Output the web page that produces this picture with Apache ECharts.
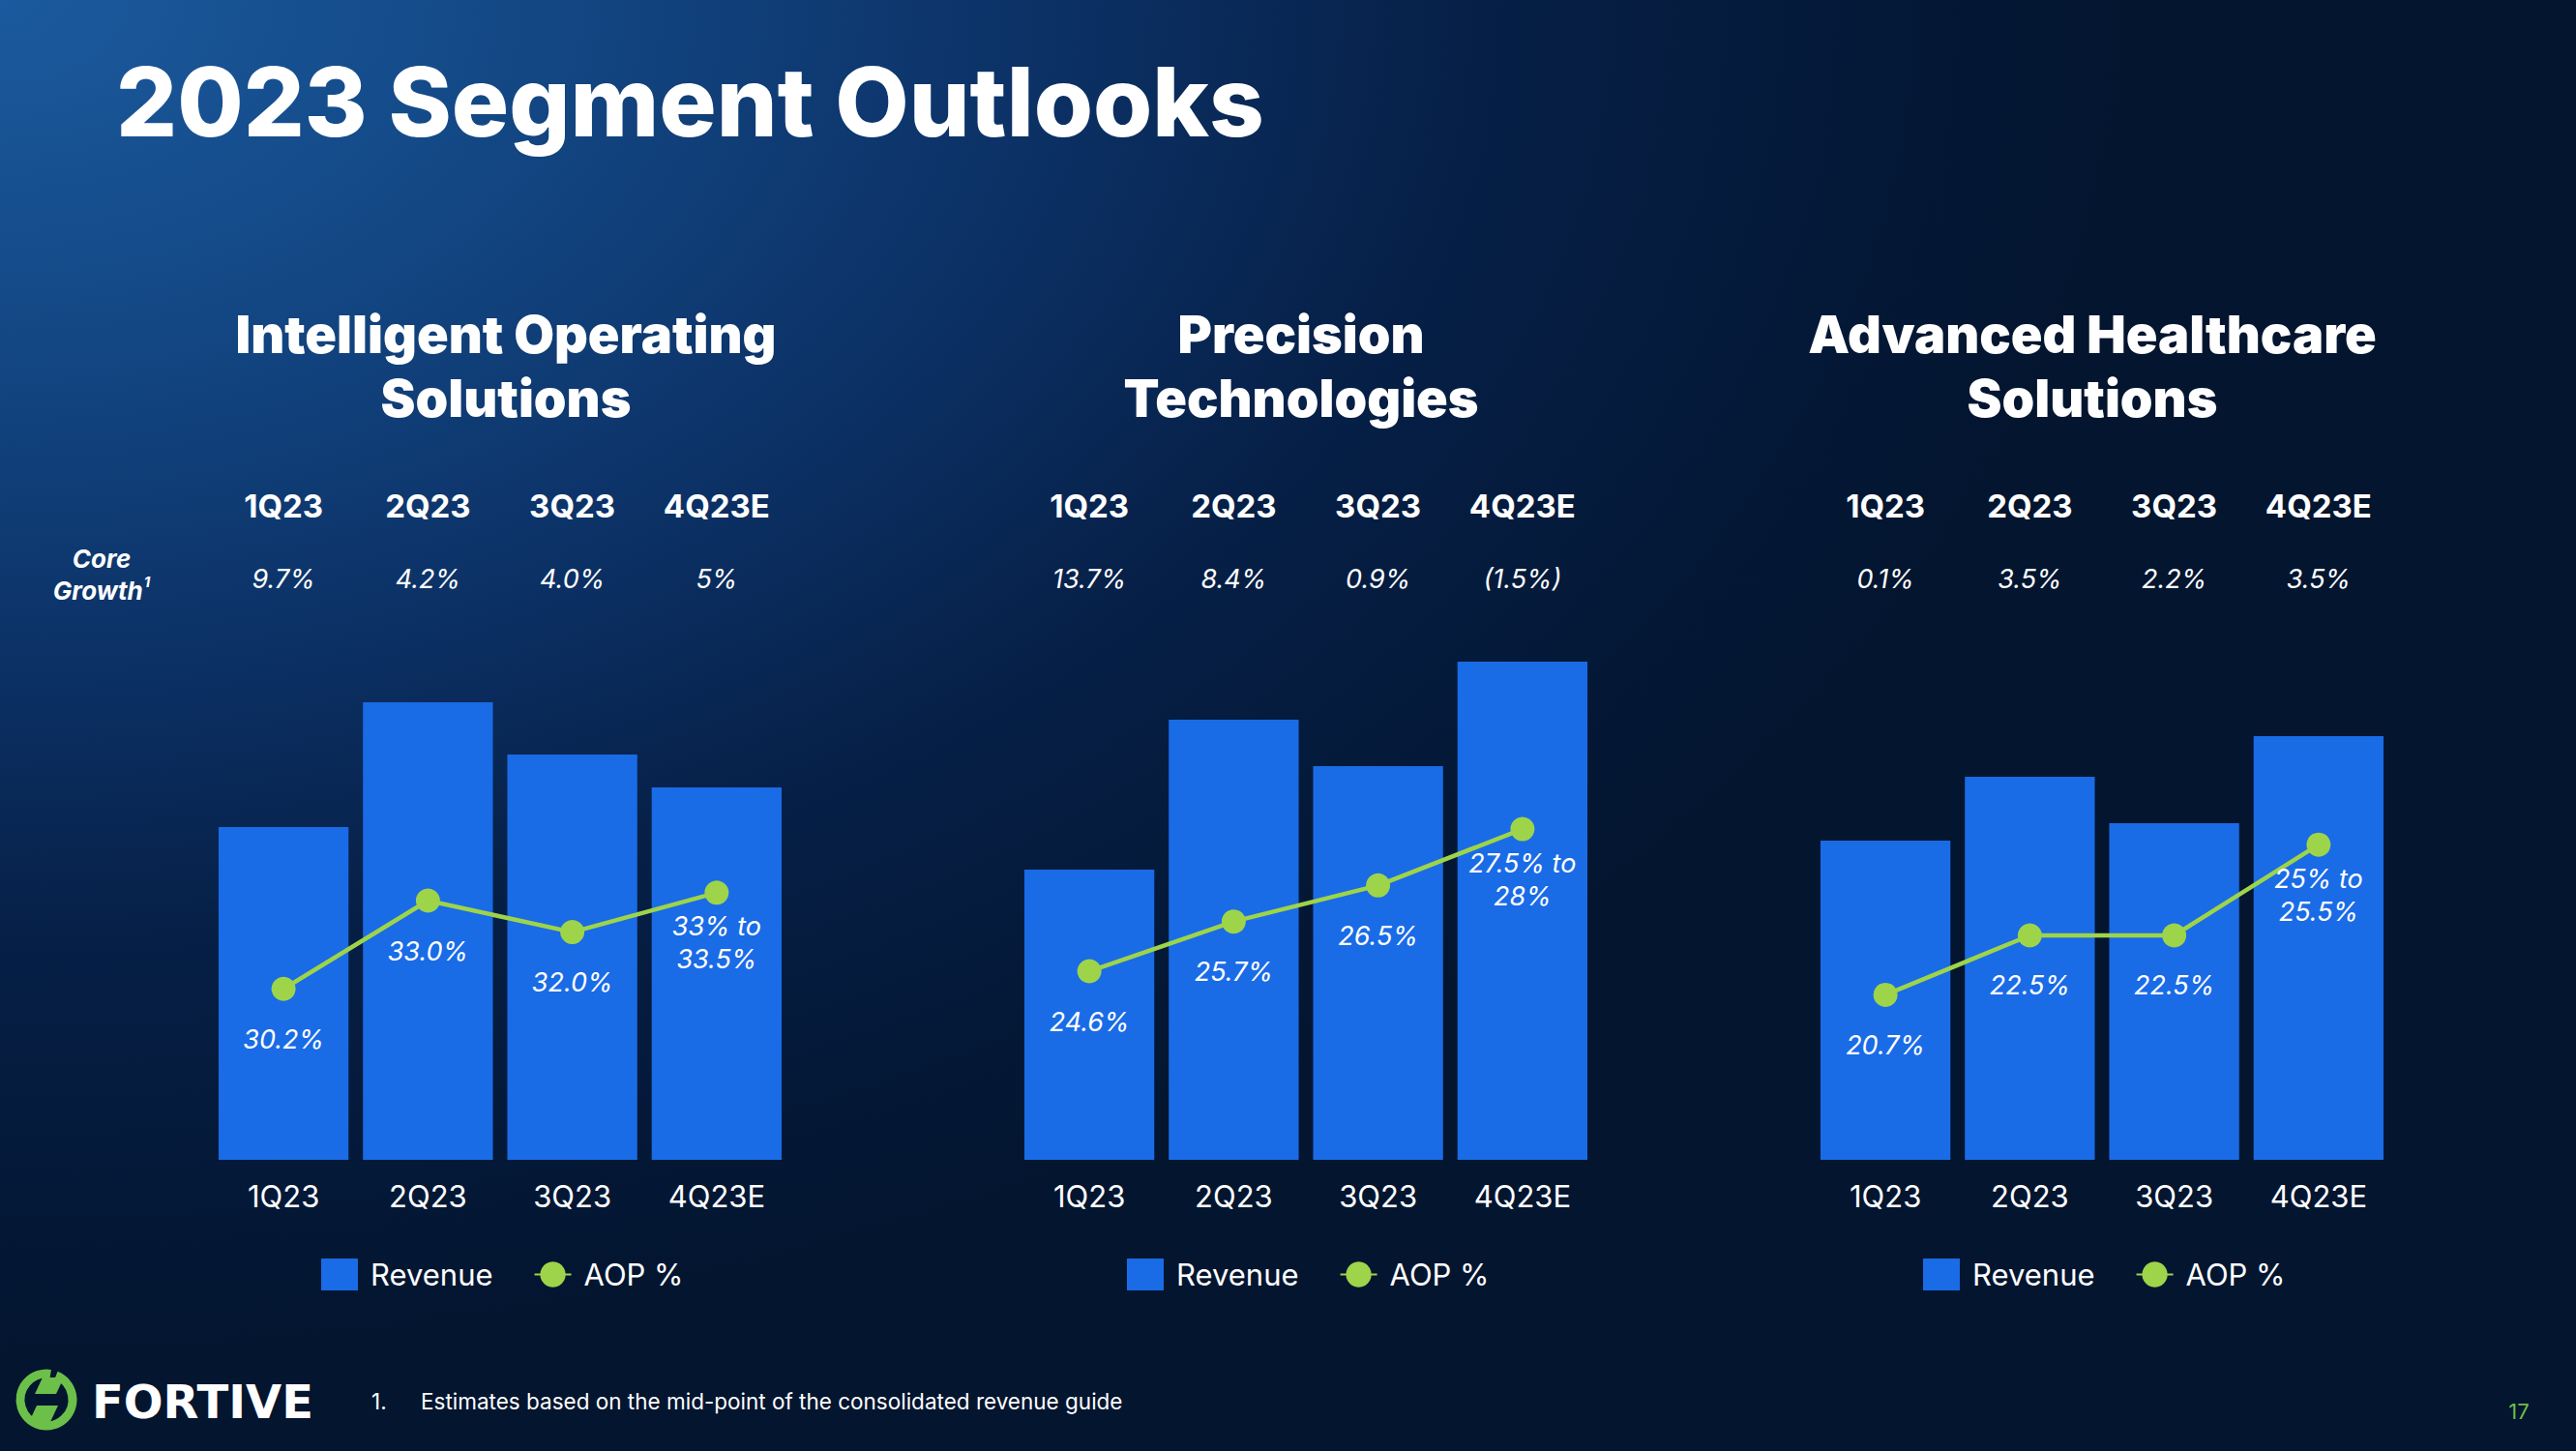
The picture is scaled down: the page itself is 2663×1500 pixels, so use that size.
<!DOCTYPE html>
<html>
<head>
<meta charset="utf-8">
<script src="https://cdn.jsdelivr.net/npm/echarts@6/dist/echarts.min.js"></script>
<style>
html,body{margin:0;padding:0;width:2663px;height:1500px;overflow:hidden;}
body{background:#03152f radial-gradient(ellipse 2200px 1400px at 0px 0px,#1b5a9e 0%,#144a88 22%,#0c3267 48%,#061f46 70%,#03152f 100%);}
#chart{width:2663px;height:1500px;}
</style>
</head>
<body>
<div id="chart"></div>
<script>
// ---------- data ----------
const categories = ['1Q23', '2Q23', '3Q23', '4Q23E'];
const segmentTitles = ['Intelligent Operating\nSolutions', 'Precision\nTechnologies', 'Advanced Healthcare\nSolutions'];

// Revenue bars (no scale shown in the source; relative heights)
const iosRevenue = [68.8, 94.6, 83.8, 77.0];
const ptRevenue  = [60.0, 91.0, 81.4, 103.0];
const ahsRevenue = [66.0, 79.2, 69.6, 87.6];

// AOP % (4Q23E plotted at the mid-point of the guided range)
const iosAop = [30.2, 33.0, 32.0, 33.25];
const ptAop  = [24.6, 25.7, 26.5, 27.75];
const ahsAop = [20.7, 22.5, 22.5, 25.25];

const iosAopLabels = ['30.2%', '33.0%', '32.0%', '33% to\n33.5%'];
const ptAopLabels  = ['24.6%', '25.7%', '26.5%', '27.5% to\n28%'];
const ahsAopLabels = ['20.7%', '22.5%', '22.5%', '25% to\n25.5%'];

// Core growth row
const iosCoreGrowth = ['9.7%', '4.2%', '4.0%', '5%'];
const ptCoreGrowth  = ['13.7%', '8.4%', '0.9%', '(1.5%)'];
const ahsCoreGrowth = ['0.1%', '3.5%', '2.2%', '3.5%'];

const legendNames = ['Revenue', 'AOP %'];

// ---------- layout ----------
const FONT = 'Inter, "Noto Sans", sans-serif';
const BAR_COLOR = '#1a6be6';
const LINE_COLOR = '#9ed44a';
const GRID_TOP = 649, GRID_H = 550, GRID_W = 597;

const panels = [
  { title: segmentTitles[0], revenue: iosRevenue, aop: iosAop, labels: iosAopLabels, growth: iosCoreGrowth,
    left: 218.5, center: 523, legendLeft: 327, aopMin: 24.78, aopMax: 41.65 },
  { title: segmentTitles[1], revenue: ptRevenue, aop: ptAop, labels: ptAopLabels, growth: ptCoreGrowth,
    left: 1051.5, center: 1345, legendLeft: 1160, aopMin: 20.42, aopMax: 32.21 },
  { title: segmentTitles[2], revenue: ahsRevenue, aop: ahsAop, labels: ahsAopLabels, growth: ahsCoreGrowth,
    left: 1874.5, center: 2163, legendLeft: 1983, aopMin: 15.70, aopMax: 31.82 }
];

const grid = [], xAxis = [], yAxis = [], series = [], legend = [];

panels.forEach((p, i) => {
  grid.push({ left: p.left, top: GRID_TOP, width: GRID_W, height: GRID_H, outerBoundsMode: 'none', containLabel: false });
  xAxis.push({
    type: 'category', gridIndex: i, data: categories, position: 'bottom',
    axisLine: { show: false }, axisTick: { show: false }, splitLine: { show: false },
    axisLabel: { color: '#ffffff', fontSize: 31, fontFamily: FONT, margin: 22, interval: 0 }
  });
  yAxis.push({ type: 'value', gridIndex: i, min: 0, max: 110, show: false, splitLine: { show: false } });
  yAxis.push({ type: 'value', gridIndex: i, min: p.aopMin, max: p.aopMax, show: false, splitLine: { show: false } });

  series.push({
    type: 'bar', name: 'Revenue', xAxisIndex: i, yAxisIndex: i * 2,
    data: p.revenue, barCategoryGap: '10%', itemStyle: { color: BAR_COLOR, borderRadius: 0 }, silent: true, animation: false
  });
  series.push({
    type: 'line', name: 'AOP %', xAxisIndex: i, yAxisIndex: i * 2 + 1,
    data: p.aop, symbol: 'circle', symbolSize: 25, z: 5, animation: false,
    lineStyle: { color: LINE_COLOR, width: 4.5 }, itemStyle: { color: LINE_COLOR },
    label: {
      show: true, position: 'inside', offset: [0, 52],
      formatter: (q) => p.labels[q.dataIndex],
      color: '#ffffff', fontStyle: 'italic', fontSize: 27, lineHeight: 34, fontFamily: FONT, align: 'center'
    }
  });

  legend.push({
    left: p.legendLeft, top: 1296, orient: 'horizontal',
    data: [{ name: legendNames[0], icon: 'rect' }, { name: legendNames[1] }],
    itemWidth: 38, itemHeight: 33, itemGap: 42, selectedMode: false,
    textStyle: { color: '#ffffff', fontSize: 31, fontFamily: FONT, padding: [0, 0, 0, 8] }
  });
});

// top axes carrying the quarter headers and core-growth row
panels.forEach((p, i) => {
  xAxis.push({
    type: 'category', gridIndex: i, data: categories, position: 'top',
    axisLine: { show: false }, axisTick: { show: false }, splitLine: { show: false },
    axisLabel: {
      interval: 0, margin: 26,
      formatter: (val, idx) => '{h|' + val + '}\n{g|' + p.growth[idx] + '}',
      rich: {
        h: { color: '#ffffff', fontSize: 33, fontWeight: 'bold', fontFamily: FONT, lineHeight: 100 },
        g: { color: '#ffffff', fontSize: 27, fontStyle: 'italic', fontFamily: FONT, lineHeight: 50 }
      }
    }
  });
});

const graphic = [
  { type: 'text', x: 120, y: 105, style: { text: '2023 Segment Outlooks', fill: '#ffffff',
      fontSize: 99, fontWeight: 800, fontFamily: FONT, verticalAlign: 'middle', align: 'left' } },
  { type: 'text', x: 105, y: 594, style: {
      text: '{a|Core}\n{a|Growth}{s|1}', align: 'center', verticalAlign: 'middle',
      rich: {
        a: { fill: '#ffffff', fontSize: 26, fontWeight: 'bold', fontStyle: 'italic', fontFamily: FONT, lineHeight: 33 },
        s: { fill: '#ffffff', fontSize: 15, fontWeight: 'bold', fontStyle: 'italic', fontFamily: FONT, lineHeight: 33, verticalAlign: 'top', padding: [0, 0, 10, 1] }
      } } },
  { type: 'text', x: 384, y: 1448, style: { text: '1.', fill: '#ffffff', fontSize: 22.5, fontFamily: FONT, verticalAlign: 'middle' } },
  { type: 'text', x: 435, y: 1448, style: { text: 'Estimates based on the mid-point of the consolidated revenue guide',
      fill: '#ffffff', fontSize: 22.5, fontFamily: FONT, verticalAlign: 'middle' } },
  { type: 'text', x: 95, y: 1449, style: { text: 'FORTIVE', fill: '#ffffff', fontSize: 48, fontWeight: 'bold',
      fontFamily: '"DejaVu Sans", sans-serif', verticalAlign: 'middle' } },
  { type: 'text', x: 2604, y: 1459, style: { text: '17', fill: '#6dbb4a', fontSize: 22, fontFamily: FONT,
      align: 'center', verticalAlign: 'middle' } },
  // logo mark: open ring with slanted strokes
  { type: 'arc', shape: { cx: 48, cy: 1447, r: 27, startAngle: -Math.PI * 0.38, endAngle: Math.PI * 1.55 },
    style: { stroke: '#6cc04a', lineWidth: 9, fill: null } },
  { type: 'polygon', shape: { points: [[44, 1424], [66, 1424], [58, 1441], [36, 1441]] }, style: { fill: '#6cc04a' } },
  { type: 'polygon', shape: { points: [[38, 1453], [60, 1453], [52, 1470], [30, 1470]] }, style: { fill: '#6cc04a' } }
];

panels.forEach((p) => {
  graphic.push({ type: 'text', x: p.center, y: 312, style: {
    text: p.title, fill: '#ffffff', fontSize: 54, fontWeight: 900, fontFamily: FONT,
    align: 'center', verticalAlign: 'top', lineHeight: 66 } });
});

const chart = echarts.init(document.getElementById('chart'), null, { renderer: 'svg' });
chart.setOption({
  backgroundColor: 'transparent',
  animation: false,
  grid, xAxis, yAxis, series, legend, graphic,
  tooltip: { show: false }
});
</script>
</body>
</html>
